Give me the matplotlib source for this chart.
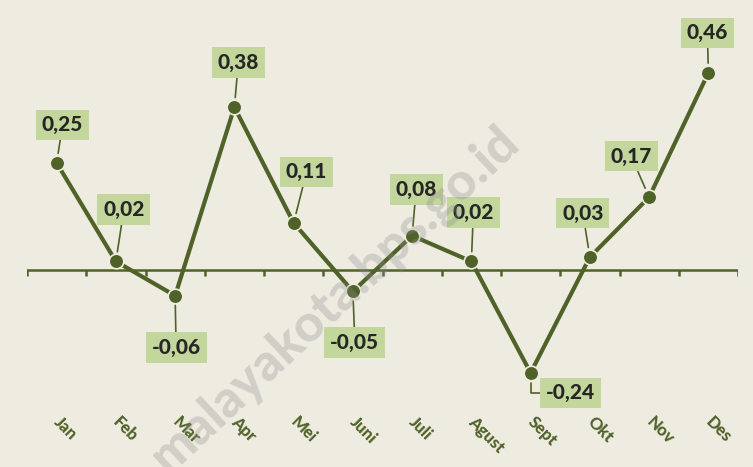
import matplotlib.pyplot as plt

# monthly inflation values (percent)
months = ["Jan", "Feb", "Mar", "Apr", "Mei", "Juni", "Juli", "Agust", "Sept", "Okt", "Nov", "Des"]
values = [0.25, 0.02, -0.06, 0.38, 0.11, -0.05, 0.08, 0.02, -0.24, 0.03, 0.17, 0.46]
value_labels = ["0,25", "0,02", "-0,06", "0,38", "0,11", "-0,05", "0,08", "0,02", "-0,24", "0,03", "0,17", "0,46"]

# label box offsets from each point, in pixels
label_offsets = [(6, 38), (8, 52), (1, -52), (4, 45), (13, 51), (2, -51),
                 (4, 46), (2, 49), (40, -20), (-7, 44), (-18, 41), (-1, 40)]

OLIVE = "#4F6228"
BG = "#EEECE1"
BOX = "#C3D69B"
TXT = "#262626"

plt.rcParams["font.family"] = ["Lato", "DejaVu Sans"]

fig = plt.figure(figsize=(7.53, 4.67), dpi=100)
fig.patch.set_facecolor(BG)
ax = fig.add_axes([27 / 753, 0, 711 / 753, 1])
ax.set_facecolor(BG)
ax.set_xlim(-0.5, 11.5)
ax.set_ylim(-197 / 428.5, 270 / 428.5)

x = list(range(len(months)))
ax.plot(x, values, color=OLIVE, lw=3, marker="o", ms=10.5,
        mfc=OLIVE, mec=BG, mew=1.2, zorder=3, solid_capstyle="butt")

# horizontal category axis at zero with tick marks between months
ax.axhline(0, color=OLIVE, lw=1.8, zorder=2)
for b in [i - 0.5 for i in range(len(months) + 1)]:
    ax.plot([b, b], [0, -6 / 428.5], color=OLIVE, lw=1.8, zorder=2,
            solid_capstyle="butt")

for s in ax.spines.values():
    s.set_visible(False)
ax.set_xticks([])
ax.set_yticks([])

# month labels, rotated
for i, m in enumerate(months):
    ax.text(i - 0.1, -144 / 428.5, m, rotation=-45, ha="left", va="top",
            color=OLIVE, fontsize=12, fontweight="black")

# data labels with leader lines
for i, (v, lab) in enumerate(zip(values, value_labels)):
    dx, dy = label_offsets[i]
    conn = "arc3"
    if lab == "-0,24":
        conn = "angle,angleA=0,angleB=90,rad=0"
    ax.annotate(lab, xy=(i, v), xytext=(dx, dy), textcoords="offset pixels",
                ha="center", va="center", fontsize=15, fontweight="black",
                color=TXT, zorder=4,
                bbox=dict(boxstyle="square,pad=0.28", fc=BOX, ec="none"),
                arrowprops=dict(arrowstyle="-", color=OLIVE, lw=1.2,
                                shrinkA=0, shrinkB=7, connectionstyle=conn))

# watermark
fig.text(335 / 753, 1 - 300 / 467, "malayakota.bps.go.id", rotation=43,
         ha="center", va="center", fontsize=37, fontweight="black",
         color="#8C8C8C", alpha=0.3, zorder=10)

fig.savefig("out.png", dpi=100, facecolor=BG)
